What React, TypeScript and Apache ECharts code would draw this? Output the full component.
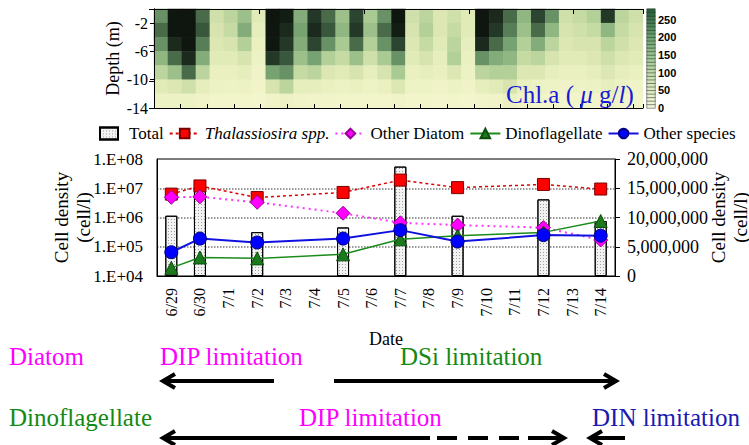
import React, { useEffect, useRef } from 'react';
import * as echarts from 'echarts';

const SERIF = 'Liberation Serif, Times New Roman, serif';

// ---- lower chart data ----
const dates = ['6/29', '6/30', '7/1', '7/2', '7/3', '7/4', '7/5', '7/6', '7/7', '7/8', '7/9', '7/10', '7/11', '7/12', '7/13', '7/14'];
const totalCells = [10300000, 15300000, null, 7500000, null, null, 8300000, null, 18700000, null, 10300000, null, null, 13100000, null, 9400000];
const thalassiosira = [6.3e6, 1.2e7, null, 4.8e6, null, null, 7.2e6, null, 1.9e7, null, 1.05e7, null, null, 1.35e7, null, 9.4e6];
const otherDiatom = [4.9e6, 5.1e6, null, 3.3e6, null, null, 1.4e6, null, 6.6e5, null, 5.5e5, null, null, 4.5e5, null, 1.7e5];
const dinoflagellate = [1.9e4, 4.3e4, null, 4.0e4, null, null, 5.5e4, null, 1.8e5, null, 2.4e5, null, null, 3.1e5, null, 7.6e5];
const otherSpecies = [6.5e4, 1.9e5, null, 1.4e5, null, null, 1.9e5, null, 3.7e5, null, 1.5e5, null, null, 2.5e5, null, 2.4e5];

// ---- upper contour panel (Chl.a, µg/l), rows = 2 m depth bands from surface ----
const chlDepthBands = ['0-2', '2-4', '4-6', '6-8', '8-10', '10-12', '12-14'];
const chlGrid: number[][] = [
  [180, 255, 255, 200, 90, 110, 140, 60, 255, 250, 160, 230, 200, 140, 220, 130, 180, 255, 90, 110, 70, 90, 60, 255, 240, 200, 150, 220, 180, 90, 100, 120, 230, 110, 90],
  [200, 255, 255, 210, 80, 100, 160, 50, 255, 240, 170, 240, 210, 150, 230, 140, 200, 250, 80, 120, 70, 100, 60, 255, 230, 190, 140, 200, 150, 80, 90, 100, 150, 100, 80],
  [180, 240, 255, 190, 70, 80, 120, 40, 255, 230, 160, 220, 180, 130, 200, 120, 180, 220, 70, 100, 60, 110, 50, 240, 200, 170, 120, 160, 110, 70, 80, 80, 110, 90, 70],
  [150, 200, 240, 160, 60, 60, 80, 30, 230, 210, 140, 170, 120, 100, 140, 90, 130, 180, 60, 80, 50, 120, 40, 180, 160, 150, 100, 110, 80, 60, 60, 70, 90, 70, 60],
  [110, 140, 200, 110, 40, 40, 50, 20, 170, 180, 100, 110, 70, 60, 80, 50, 80, 130, 40, 50, 40, 70, 30, 110, 120, 120, 70, 70, 50, 40, 40, 50, 70, 50, 40],
  [60, 70, 90, 50, 30, 25, 30, 15, 80, 110, 50, 50, 40, 30, 40, 25, 40, 70, 25, 25, 20, 30, 20, 50, 60, 80, 40, 30, 25, 20, 25, 30, 50, 30, 20],
  [30, 30, 30, 20, 10, 10, 10, 5, 20, 30, 20, 15, 15, 10, 10, 10, 10, 20, 10, 10, 5, 10, 5, 15, 20, 40, 20, 10, 10, 5, 10, 10, 30, 10, 10],
];
const colorbarLevels = [5, 15, 25, 35, 45, 55, 65, 75, 85, 95, 105, 115, 125, 135, 145, 155, 165, 175, 185, 195, 205, 215, 225, 235, 245, 255, 265, 275];

const wrap = (s: string) => `{s|${s}}`;
const rs = (size: number, extra: any = {}) => ({ s: { fontFamily: SERIF, fontSize: size, color: '#000', ...extra } });

export default function App() {
  const ref = useRef<HTMLDivElement>(null);
  useEffect(() => {
    if (!ref.current) return;
    const chart = echarts.init(ref.current, null, { renderer: 'svg' });
    const cols = chlGrid[0].map((_, i) => String(i));
    const contourData: number[][] = [];
    chlGrid.forEach((row, r) => row.forEach((v, c) => contourData.push([c, r, v])));
    const barData = colorbarLevels.map((v, k) => [0, k, v]);
    const legendNames = ['Total', 'Thalassiosira spp.', 'Other Diatom', 'Dinoflagellate', 'Other species'];
    const black = { color: '#000' };
    const arrowStyle = { stroke: '#000', lineWidth: 4, fill: null as any };
    const txt = (text: string, x: number, y: number, fill: string) => ({
      type: 'text', x, y, style: { text, fill, fontFamily: SERIF, fontSize: 25, verticalAlign: 'middle' },
    });
    const cellName = '{s|Cell density}\n{s|(cell/l)}';

    chart.setOption({
      animation: false,
      backgroundColor: '#fff',
      textStyle: { fontFamily: SERIF },
      grid: [
        { left: 154, top: 9, width: 489, height: 99, outerBoundsMode: 'none' },
        { left: 154, top: 9, width: 489, height: 99, outerBoundsMode: 'none' },
        { left: 647, top: 9, width: 8, height: 99, outerBoundsMode: 'none' },
        { left: 647, top: 9, width: 8, height: 99, outerBoundsMode: 'none' },
        { left: 157, top: 159, width: 458, height: 117, show: true, borderColor: '#000', borderWidth: 1, outerBoundsMode: 'none' },
      ],
      xAxis: [
        { type: 'category', gridIndex: 0, data: cols, show: false },
        { type: 'value', gridIndex: 1, min: 0, max: 18.35, interval: 1, position: 'bottom', z: 10,
          axisLine: { lineStyle: black }, axisTick: { inside: true, length: 4, lineStyle: black }, axisLabel: { show: false }, splitLine: { show: false } },
        { type: 'value', gridIndex: 1, min: 0, max: 4.66, interval: 1, position: 'top', z: 10,
          axisLine: { lineStyle: black }, axisTick: { inside: true, length: 5, lineStyle: black }, axisLabel: { show: false }, splitLine: { show: false } },
        { type: 'category', gridIndex: 2, data: ['c'], show: false },
        { type: 'value', gridIndex: 3, min: 0, max: 1, show: false },
        { type: 'category', gridIndex: 4, data: dates, boundaryGap: true,
          axisLine: { lineStyle: black }, axisTick: { inside: true, length: 5, lineStyle: black },
          axisLabel: { rotate: 90, interval: 0, margin: 12, formatter: (v: string) => wrap(v), rich: rs(16) },
          name: wrap('Date'), nameLocation: 'middle', nameGap: 54, nameMoveOverlap: false,
          nameTextStyle: { rich: rs(18) } },
      ],
      yAxis: [
        { type: 'category', gridIndex: 0, data: chlDepthBands, inverse: true, show: false },
        { type: 'value', gridIndex: 1, min: 0, max: 14, interval: 4, position: 'left', z: 10,
          axisLine: { show: true, lineStyle: black }, axisTick: { show: true, length: 4, lineStyle: black },
          axisLabel: { formatter: (v: number) => wrap(String(v - 14)), showMaxLabel: false, margin: 6, rich: rs(16) },
          splitLine: { show: false },
          name: wrap('Depth (m)'), nameLocation: 'middle', nameGap: 32, nameMoveOverlap: false,
          nameTextStyle: { rich: rs(18) } },
        { type: 'value', gridIndex: 1, min: 0, max: 2.75, interval: 1, position: 'right', inverse: true, z: 10,
          axisLine: { show: true, lineStyle: black }, axisTick: { show: true, inside: true, length: 5, lineStyle: black },
          axisLabel: { show: false }, splitLine: { show: false } },
        { type: 'category', gridIndex: 2, data: colorbarLevels.map(String), show: false },
        { type: 'value', gridIndex: 3, min: 0, max: 28, interval: 5, position: 'right',
          axisLine: { show: false }, axisTick: { show: false }, splitLine: { show: false },
          axisLabel: { formatter: (v: number) => String(v * 10), showMaxLabel: false, fontFamily: 'Liberation Sans, Arial, sans-serif', fontWeight: 'bold', fontSize: 11, color: '#000', margin: 3 } },
        { type: 'log', gridIndex: 4, logBase: 10, min: 1e4, max: 1e8, position: 'left',
          axisLine: { show: true, lineStyle: black }, axisTick: { show: false }, minorTick: { show: false },
          axisLabel: { formatter: (v: number) => wrap('1.E+' + String(Math.round(Math.log10(v))).padStart(2, '0')), margin: 14, rich: rs(17) },
          splitLine: { show: true, lineStyle: { color: '#777', type: 'dotted', width: 1.5 } },
          name: cellName, nameLocation: 'middle', nameRotate: 90, nameGap: 63, nameMoveOverlap: false,
          nameTextStyle: { rich: rs(19, { lineHeight: 22 }) } },
        { type: 'value', gridIndex: 4, min: 0, max: 20000000, interval: 5000000, position: 'right',
          axisLine: { show: true, lineStyle: black }, axisTick: { show: true, length: 5, lineStyle: black },
          axisLabel: { formatter: (v: number) => wrap(v.toLocaleString('en-US')), margin: 12, rich: rs(18) },
          splitLine: { show: false },
          name: cellName, nameLocation: 'middle', nameRotate: 90, nameGap: 92, nameMoveOverlap: false,
          nameTextStyle: { rich: rs(19, { lineHeight: 22 }) } },
      ],
      visualMap: [
        { type: 'continuous', show: false, seriesIndex: 0, min: 0, max: 260,
          inRange: { color: ['#f4f6cd', '#eaf0c0', '#d3e2ac', '#a9ca92', '#739f6f', '#2e4a33', '#0a0f0a'] } },
        { type: 'continuous', show: false, seriesIndex: 1, min: 0, max: 280,
          inRange: { color: ['#f4f6d8', '#d4e6b8', '#9fca95', '#5f9c68', '#1f5c33'] } },
      ],
      legend: {
        left: 94, top: 120, itemWidth: 30, itemHeight: 12, itemGap: 5, width: 660,
        data: [{ name: 'Total', icon: 'path://M0,0H18V12H0Z' }, 'Thalassiosira spp.', 'Other Diatom', 'Dinoflagellate', 'Other species'],
        formatter: (name: string) => (name === 'Thalassiosira spp.' ? `{it|${name}}` : wrap(name)),
        textStyle: { rich: { ...rs(17), it: { fontFamily: SERIF, fontSize: 17, fontStyle: 'italic', color: '#000' } } },
      },
      series: [
        { type: 'heatmap', name: 'chl', xAxisIndex: 0, yAxisIndex: 0, data: contourData, silent: true },
        { type: 'heatmap', name: 'scale', xAxisIndex: 3, yAxisIndex: 3, data: barData, silent: true,
          itemStyle: { borderColor: '#333', borderWidth: 0.5 } },
        { type: 'bar', name: legendNames[0], xAxisIndex: 5, yAxisIndex: 6, data: totalCells, barWidth: 12,
          itemStyle: { color: '#f2f2f2', borderColor: '#000', borderWidth: 1,
            decal: { symbol: 'rect', symbolSize: 1, dashArrayX: [1, 2], dashArrayY: [1, 2], color: 'rgba(0,0,0,0.35)' } } },
        { type: 'line', name: legendNames[1], xAxisIndex: 5, yAxisIndex: 5, data: thalassiosira, connectNulls: true,
          symbol: 'rect', symbolSize: 12, itemStyle: { color: '#ff0000', borderColor: '#7a0000', borderWidth: 1 },
          lineStyle: { color: '#e00000', width: 1.5, type: [3, 3] } },
        { type: 'line', name: legendNames[2], xAxisIndex: 5, yAxisIndex: 5, data: otherDiatom, connectNulls: true,
          symbol: 'diamond', symbolSize: 14, itemStyle: { color: '#ff00ff', borderColor: '#990099', borderWidth: 1 },
          lineStyle: { color: '#ff33ff', width: 2, type: [2, 4] } },
        { type: 'line', name: legendNames[3], xAxisIndex: 5, yAxisIndex: 5, data: dinoflagellate, connectNulls: true,
          symbol: 'triangle', symbolSize: 13, itemStyle: { color: '#1b7a1b', borderColor: '#0d4d0d', borderWidth: 1 },
          lineStyle: { color: '#1a8c1a', width: 1.5 } },
        { type: 'line', name: legendNames[4], xAxisIndex: 5, yAxisIndex: 5, data: otherSpecies, connectNulls: true,
          symbol: 'circle', symbolSize: 13, itemStyle: { color: '#0000ff', borderColor: '#000080', borderWidth: 1 },
          lineStyle: { color: '#1010e0', width: 2 } },
      ],
      graphic: [
        { type: 'text', x: 506, y: 94, z: 20, style: {
          text: '{n|Chl.a ( }{i|\u03bc}{n| g/}{i|l}{n|)}', verticalAlign: 'middle',
          rich: { n: { fontFamily: SERIF, fontSize: 25, fill: '#1a1ad6' }, i: { fontFamily: SERIF, fontSize: 25, fontStyle: 'italic', fill: '#1a1ad6' } } } },
        txt('Diatom', 9, 356, '#ff00ff'),
        txt('DIP limitation', 160, 356, '#ff00ff'),
        txt('DSi limitation', 400, 356, '#138a13'),
        { type: 'line', shape: { x1: 274, y1: 381, x2: 163, y2: 381 }, style: arrowStyle },
        { type: 'polyline', shape: { points: [[175, 374], [163, 381], [175, 388]] }, style: arrowStyle },
        { type: 'line', shape: { x1: 334, y1: 381, x2: 616, y2: 381 }, style: arrowStyle },
        { type: 'polyline', shape: { points: [[604, 374], [616, 381], [604, 388]] }, style: arrowStyle },
        txt('Dinoflagellate', 9, 417, '#138a13'),
        txt('DIP limitation', 299, 417, '#ff00ff'),
        txt('DIN limitation', 592, 417, '#1a1ab0'),
        { type: 'line', shape: { x1: 163, y1: 438, x2: 430, y2: 438 }, style: arrowStyle },
        { type: 'line', shape: { x1: 437, y1: 438, x2: 528, y2: 438 }, style: { stroke: '#000', lineWidth: 4, lineDash: [20, 11] } },
        { type: 'line', shape: { x1: 528, y1: 438, x2: 562, y2: 438 }, style: arrowStyle },
        { type: 'polyline', shape: { points: [[175, 431], [163, 438], [175, 445]] }, style: arrowStyle },
        { type: 'polyline', shape: { points: [[552, 431], [564, 438], [552, 445]] }, style: arrowStyle },
        { type: 'line', shape: { x1: 592, y1: 438, x2: 625, y2: 438 }, style: arrowStyle },
        { type: 'polyline', shape: { points: [[602, 431], [590, 438], [602, 445]] }, style: arrowStyle },
      ],
    });
    return () => chart.dispose();
  }, []);
  return <div ref={ref} style={{ position: 'fixed', left: 0, top: 0, width: 749, height: 445 }} />;
}
